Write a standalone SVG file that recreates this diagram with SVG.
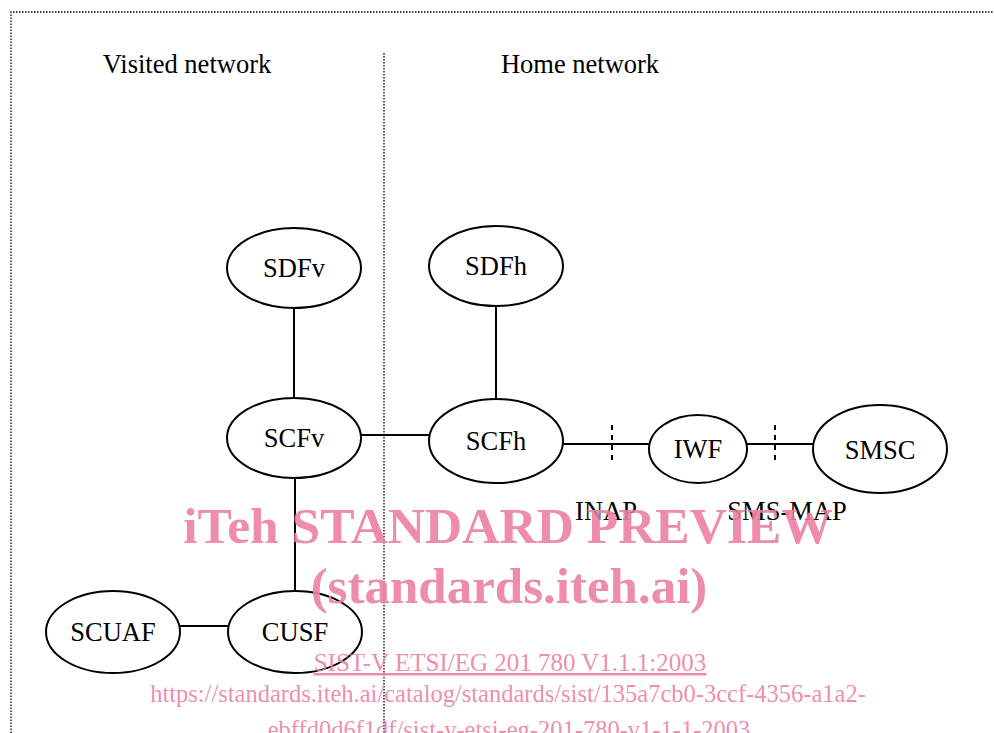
<svg xmlns="http://www.w3.org/2000/svg" width="994" height="733" viewBox="0 0 994 733">
<style>
.node ellipse{fill:#fff;stroke:#000;stroke-width:2}
.lbl{font-family:"Liberation Serif","Times New Roman",serif;font-size:26.5px;fill:#000;text-anchor:middle}
.conn line{stroke:#000;stroke-width:2}
.dash{stroke:#000;stroke-width:2;stroke-dasharray:5,5}
.dot{stroke:#000;stroke-width:1.3;stroke-dasharray:1.5,1.5;fill:none}
.wm{font-family:"Liberation Serif","Times New Roman",serif;fill:#ec7fa2;fill-opacity:0.9;text-anchor:middle}
</style>
<rect width="994" height="733" fill="#fff"/>
<path class="dot" d="M11,733 V12 H1000"/>
<line class="dot" x1="384" y1="53" x2="384" y2="733"/>
<text class="lbl" x="187" y="73">Visited network</text>
<text class="lbl" x="580" y="73">Home network</text>
<g id="connectors" class="conn">
<line x1="294" y1="308" x2="294" y2="398"/>
<line x1="496" y1="306" x2="496" y2="398"/>
<line x1="361" y1="435" x2="429" y2="435"/>
<line x1="295" y1="478" x2="295" y2="590"/>
<line x1="180" y1="626" x2="228" y2="626"/>
<line x1="563" y1="444" x2="650" y2="444"/>
<line x1="746" y1="444" x2="813" y2="444"/>
<line class="dash" x1="612" y1="425" x2="612" y2="465"/>
<line class="dash" x1="775" y1="425" x2="775" y2="465"/>
</g>
<g id="SDFv" class="node"><ellipse cx="294" cy="268" rx="67" ry="40"/><text class="lbl" x="294" y="277">SDFv</text></g>
<g id="SDFh" class="node"><ellipse cx="496" cy="266" rx="67" ry="40"/><text class="lbl" x="496" y="275">SDFh</text></g>
<g id="SCFv" class="node"><ellipse cx="294" cy="438" rx="67" ry="40"/><text class="lbl" x="294" y="447">SCFv</text></g>
<g id="SCFh" class="node"><ellipse cx="496" cy="441" rx="67" ry="42"/><text class="lbl" x="496" y="450">SCFh</text></g>
<g id="IWF" class="node"><ellipse cx="698" cy="449" rx="49" ry="34"/><text class="lbl" x="698" y="458">IWF</text></g>
<g id="SMSC" class="node"><ellipse cx="880" cy="449" rx="67" ry="44"/><text class="lbl" x="880" y="459">SMSC</text></g>
<g id="SCUAF" class="node"><ellipse cx="113" cy="632" rx="67" ry="41"/><text class="lbl" x="113" y="641">SCUAF</text></g>
<g id="CUSF" class="node"><ellipse cx="295" cy="632" rx="67" ry="41"/><text class="lbl" x="295" y="641">CUSF</text></g>
<text class="lbl" x="606" y="520">INAP</text>
<text class="lbl" x="787" y="520">SMS-MAP</text>
<text class="wm" x="508" y="543" font-size="51.5" font-weight="bold">iTeh STANDARD PREVIEW</text>
<text class="wm" x="509" y="603" font-size="51" font-weight="bold">(standards.iteh.ai)</text>
<text class="wm" x="510" y="671" font-size="25" text-decoration="underline">SIST-V ETSI/EG 201 780 V1.1.1:2003</text>
<text class="wm" x="508" y="702" font-size="24.5">https://standards.iteh.ai/catalog/standards/sist/135a7cb0-3ccf-4356-a1a2-</text>
<text class="wm" x="509" y="738" font-size="24.5">ebffd0d6f1df/sist-v-etsi-eg-201-780-v1-1-1-2003</text>
</svg>
